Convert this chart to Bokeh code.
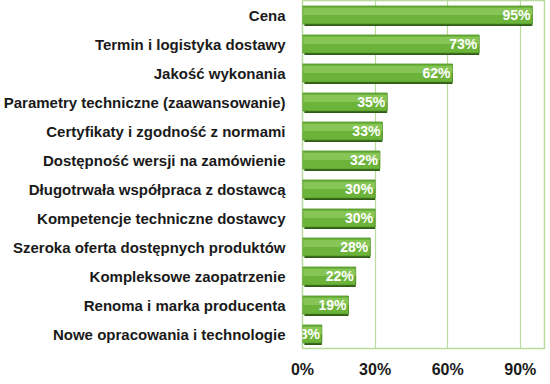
from bokeh.plotting import figure
from bokeh.models import ColumnDataSource, FactorRange, FixedTicker, CustomJSTickFormatter
from bokeh.transform import dodge
from bokeh.core.properties import value
from bokeh.embed import file_html
from bokeh.resources import INLINE

categories = [
    "Cena",
    "Termin i logistyka dostawy",
    "Jakość wykonania",
    "Parametry techniczne (zaawansowanie)",
    "Certyfikaty i zgodność z normami",
    "Dostępność wersji na zamówienie",
    "Długotrwała współpraca z dostawcą",
    "Kompetencje techniczne dostawcy",
    "Szeroka oferta dostępnych produktów",
    "Kompleksowe zaopatrzenie",
    "Renoma i marka producenta",
    "Nowe opracowania i technologie",
]
values = [95, 73, 62, 35, 33, 32, 30, 30, 28, 22, 19, 8]
x_ticks = [0, 30, 60, 90]

src = ColumnDataSource(dict(
    cat=categories,
    val=values,
    label=[f"{v}%" for v in values],
))

p = figure(
    y_range=FactorRange(*reversed(categories)),
    x_range=(0, 100),
    output_backend="svg", toolbar_location=None,
    min_border_left=0, min_border_right=2, min_border_top=0, min_border_bottom=0,
)
p.frame_width = 242
p.frame_height = 348

# shadow
p.hbar(y=dodge("cat", -0.07, range=p.y_range), left=0.8, right="val", height=0.62,
       source=src, fill_color="#2f5a18", line_color=None)
# main bar
p.hbar(y="cat", left=0, right="val", height=0.62, source=src,
       fill_color="#6cb33a", line_color="#4f8f27", line_width=0.8)
# highlight
p.hbar(y=dodge("cat", 0.12, range=p.y_range), left=0.4, right="val", height=0.24,
       source=src, fill_color="#8fcb5e", line_color=None, fill_alpha=0.8)

p.text(x="val", y="cat", text="label", source=src, x_offset=-2,
       text_align="right", text_baseline="middle", text_color="white",
       text_font=value("Liberation Sans"), text_font_style="bold", text_font_size="14px")

p.outline_line_color = "#b9dc9c"
p.outline_line_width = 1.5
p.background_fill_color = "white"

p.xgrid.ticker = FixedTicker(ticks=x_ticks)
p.xgrid.grid_line_color = "#b9dc9c"
p.xgrid.grid_line_width = 1.2
p.ygrid.grid_line_color = None

p.xaxis.ticker = FixedTicker(ticks=x_ticks)
p.xaxis.formatter = CustomJSTickFormatter(code="return tick + '%';")
p.xaxis.axis_line_color = None
p.xaxis.major_tick_line_color = None
p.xaxis.minor_tick_line_color = None
p.xaxis.major_label_text_font = "Liberation Sans"
p.xaxis.major_label_text_font_style = "bold"
p.xaxis.major_label_text_font_size = "16px"
p.xaxis.major_label_text_color = "#1a1a1a"
p.xaxis.major_label_standoff = 6

p.yaxis.axis_line_color = None
p.yaxis.major_tick_line_color = None
p.yaxis.minor_tick_line_color = None
p.yaxis.major_label_text_font = "Liberation Sans"
p.yaxis.major_label_text_font_style = "bold"
p.yaxis.major_label_text_font_size = "15px"
p.yaxis.major_label_text_color = "#1a1a1a"
p.yaxis.major_label_standoff = 11

open("out.html", "w").write(file_html(p, INLINE))
